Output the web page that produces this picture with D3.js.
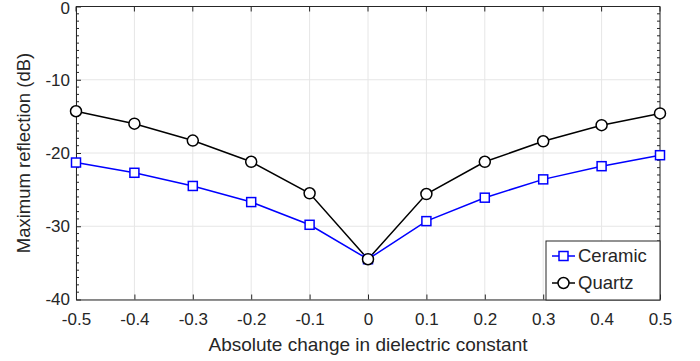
<!DOCTYPE html>
<html>
<head>
<meta charset="utf-8">
<script src="https://cdn.jsdelivr.net/npm/d3@7"></script>
<style>
  body { margin: 0; background: #fff; }
  text { font-family: "Liberation Sans", Arial, sans-serif; }
</style>
</head>
<body>
<div class="chart"></div>
<script>
// data
const xValues = [-0.5, -0.4, -0.3, -0.2, -0.1, 0, 0.1, 0.2, 0.3, 0.4, 0.5];
const ceramic = [-21.3, -22.7, -24.5, -26.7, -29.8, -34.5, -29.3, -26.1, -23.6, -21.8, -20.3];
const quartz  = [-14.3, -16.0, -18.3, -21.2, -25.5, -34.5, -25.6, -21.2, -18.4, -16.2, -14.6];
const xTicks = [-0.5, -0.4, -0.3, -0.2, -0.1, 0, 0.1, 0.2, 0.3, 0.4, 0.5];
const yTicks = [0, -10, -20, -30, -40];

var cfg = {
  width: 700,
  height: 361,
  margin: {top: 6.5, right: 40, bottom: 61.5, left: 76}
};
var plotW = cfg.width - cfg.margin.left - cfg.margin.right;
var plotH = cfg.height - cfg.margin.top - cfg.margin.bottom;

var scale = {
  x: d3.scaleLinear().domain([-0.5, 0.5]).range([cfg.margin.left, cfg.margin.left + plotW]),
  y: d3.scaleLinear().domain([-40, 0]).range([cfg.margin.top + plotH, cfg.margin.top])
};

var axisColor = "#262626";

var svg = d3.select(".chart").append("svg")
  .attr("width", cfg.width)
  .attr("height", cfg.height);

// grid
var grid = svg.append("g").attr("stroke", "#e6e6e6").attr("stroke-width", 1);
grid.selectAll(".gx").data(xTicks).enter().append("line")
  .attr("x1", d => scale.x(d)).attr("x2", d => scale.x(d))
  .attr("y1", cfg.margin.top).attr("y2", cfg.margin.top + plotH);
grid.selectAll(".gy").data(yTicks).enter().append("line")
  .attr("x1", cfg.margin.left).attr("x2", cfg.margin.left + plotW)
  .attr("y1", d => scale.y(d)).attr("y2", d => scale.y(d));

// axes (ticks inward, like matlab)
var xAxis = svg.append("g")
  .attr("transform", `translate(0,${cfg.margin.top + plotH})`)
  .call(d3.axisBottom(scale.x).tickValues(xTicks).tickSizeInner(-5).tickSizeOuter(0).tickPadding(13)
    .tickFormat(d => String(d)));
var yAxis = svg.append("g")
  .attr("transform", `translate(${cfg.margin.left},0)`)
  .call(d3.axisLeft(scale.y).tickValues(yTicks).tickSizeInner(-5).tickSizeOuter(0).tickPadding(6)
    .tickFormat(d => String(d)));

[xAxis, yAxis].forEach(function(a){
  a.select(".domain").attr("stroke", axisColor);
  a.selectAll(".tick line").attr("stroke", axisColor);
  a.selectAll(".tick text").attr("fill", axisColor).style("font-size", "17px");
});
// keep the top "0" label inside the picture
yAxis.selectAll(".tick text").filter(d => d === 0).attr("dy", "0.42em");

// top and right box edges with ticks
var box = svg.append("g").attr("stroke", axisColor).attr("stroke-width", 1);
box.append("line")
  .attr("x1", cfg.margin.left).attr("x2", cfg.margin.left + plotW)
  .attr("y1", cfg.margin.top).attr("y2", cfg.margin.top);
box.append("line")
  .attr("x1", cfg.margin.left + plotW).attr("x2", cfg.margin.left + plotW)
  .attr("y1", cfg.margin.top).attr("y2", cfg.margin.top + plotH);
box.selectAll(".tt").data(xTicks).enter().append("line")
  .attr("x1", d => scale.x(d)).attr("x2", d => scale.x(d))
  .attr("y1", cfg.margin.top).attr("y2", cfg.margin.top + 5);
box.selectAll(".rt").data(yTicks).enter().append("line")
  .attr("x1", cfg.margin.left + plotW - 5).attr("x2", cfg.margin.left + plotW)
  .attr("y1", d => scale.y(d)).attr("y2", d => scale.y(d));

// minor y ticks every 1 dB on both sides
var minor = d3.range(-40, 1).filter(v => v % 10 !== 0);
box.selectAll(".ml").data(minor).enter().append("line")
  .attr("x1", cfg.margin.left).attr("x2", cfg.margin.left + 3)
  .attr("y1", d => scale.y(d)).attr("y2", d => scale.y(d));
box.selectAll(".mr").data(minor).enter().append("line")
  .attr("x1", cfg.margin.left + plotW - 3).attr("x2", cfg.margin.left + plotW)
  .attr("y1", d => scale.y(d)).attr("y2", d => scale.y(d));

// axis labels
svg.append("text")
  .attr("x", scale.x(0)).attr("y", 351)
  .attr("text-anchor", "middle")
  .attr("fill", axisColor)
  .style("font-size", "19px")
  .text("Absolute change in dielectric constant");
svg.append("text")
  .attr("transform", `translate(30,${scale.y(-20)}) rotate(-90)`)
  .attr("text-anchor", "middle")
  .attr("fill", axisColor)
  .style("font-size", "18.5px")
  .text("Maximum reflection (dB)");

// series
var series = [
  {name: "Ceramic", values: ceramic, color: "#0000ff", marker: "square"},
  {name: "Quartz", values: quartz, color: "#000000", marker: "circle"}
];

var line = d3.line()
  .x((d, i) => scale.x(xValues[i]))
  .y(d => scale.y(d));

function drawMarker(g, type, color, x, y){
  if(type === "square"){
    g.append("rect")
      .attr("x", x - 4.5).attr("y", y - 4.5)
      .attr("width", 9).attr("height", 9)
      .attr("fill", "#fff").attr("stroke", color).attr("stroke-width", 1.5);
  } else {
    g.append("circle")
      .attr("cx", x).attr("cy", y).attr("r", 5.5)
      .attr("fill", "#fff").attr("stroke", color).attr("stroke-width", 1.5);
  }
}

series.forEach(function(s){
  svg.append("path")
    .datum(s.values)
    .attr("d", line)
    .attr("fill", "none")
    .attr("stroke", s.color)
    .attr("stroke-width", 1.5);
});
series.forEach(function(s){
  var g = svg.append("g");
  s.values.forEach(function(v, i){
    drawMarker(g, s.marker, s.color, scale.x(xValues[i]), scale.y(v));
  });
});

// legend
var lg = svg.append("g").attr("transform", "translate(546,241)");
lg.append("rect")
  .attr("width", 114).attr("height", 59)
  .attr("fill", "#fff").attr("stroke", axisColor).attr("stroke-width", 1);
series.forEach(function(s, i){
  var yy = 15 + i * 27;
  lg.append("line")
    .attr("x1", 6).attr("x2", 29).attr("y1", yy).attr("y2", yy)
    .attr("stroke", s.color).attr("stroke-width", 1.5);
  drawMarker(lg, s.marker, s.color, 17.5, yy);
  lg.append("text")
    .attr("x", 32).attr("y", yy).attr("dy", "0.35em")
    .attr("fill", axisColor)
    .style("font-size", "18.5px")
    .text(s.name);
});
</script>
</body>
</html>
